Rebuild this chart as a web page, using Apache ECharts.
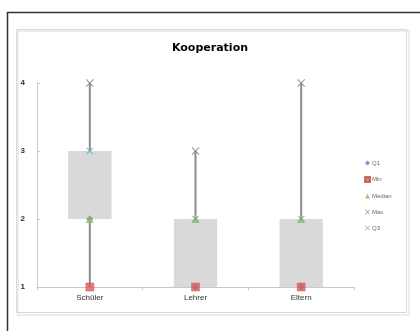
<!DOCTYPE html>
<html>
<head>
<meta charset="utf-8">
<script src="https://cdn.jsdelivr.net/npm/echarts@6/dist/echarts.min.js"></script>
<style>
  html, body { margin: 0; padding: 0; background: #fff; }
  #chart { width: 420px; height: 331px; }
</style>
</head>
<body>
<div id="chart"></div>
<script>
  // Werte
  var categories = ['Schüler', 'Lehrer', 'Eltern']
  var minVals = [1, 1, 1]
  var q1Vals = [2, 1, 1]
  var medianVals = [2, 2, 2]
  var q3Vals = [3, 2, 2]
  var maxVals = [4, 3, 4]
  var yTicks = [1, 2, 3, 4]

  var crossPath = 'path://M0,1L1,0L5,4L9,0L10,1L6,5L10,9L9,10L5,6L1,10L0,9L4,5Z'

  var myChart = echarts.init(document.getElementById('chart'))

  function boxItem (params, api) {
    var i = api.value(0)
    var pMin = api.coord([i, api.value(1)])
    var pMax = api.coord([i, api.value(5)])
    var pQ1 = api.coord([i, api.value(2)])
    var pQ3 = api.coord([i, api.value(4)])
    var w = api.size([1, 0])[0] * 0.41
    return {
      type: 'group',
      children: [
        {
          type: 'line',
          shape: { x1: pMin[0], y1: pMin[1], x2: pMax[0], y2: pMax[1] },
          style: { stroke: '#8c8c8c', lineWidth: 2 },
        },
        {
          type: 'rect',
          shape: { x: pQ1[0] - w / 2, y: pQ3[1], width: w, height: pQ1[1] - pQ3[1] },
          style: { fill: '#d9d9d9' },
        },
      ],
    }
  }

  var boxData = categories.map(function (c, i) {
    return [i, minVals[i], q1Vals[i], medianVals[i], q3Vals[i], maxVals[i]]
  })

  var option = {
    animation: false,
    backgroundColor: '#fff',
    title: {
      text: 'Kooperation',
      left: 'center',
      top: 38,
      textStyle: { color: '#000', fontSize: 11, fontWeight: 'bold', fontFamily: 'DejaVu Sans' },
    },
    legend: {
      orient: 'vertical',
      left: 359,
      top: 155,
      itemWidth: 5,
      itemHeight: 5,
      itemGap: 10,
      textStyle: { color: '#666', fontSize: 6, padding: [0, 0, 0, -3] },
      data: ['Q1', 'Min', 'Median', 'Max', 'Q3'],
    },
    grid: { left: 37, right: 66, top: 83, bottom: 44 },
    xAxis: {
      type: 'category',
      data: categories,
      axisLine: { lineStyle: { color: '#c8c8c8', width: 1 } },
      axisTick: { show: true, length: 3, lineStyle: { color: '#c8c8c8' } },
      axisLabel: { color: '#333', fontSize: 8, margin: 7 },
    },
    yAxis: {
      type: 'value',
      min: yTicks[0],
      max: yTicks[yTicks.length - 1],
      interval: 1,
      axisLine: { show: true, lineStyle: { color: '#c8c8c8' } },
      axisTick: { show: true, length: 3, inside: true, lineStyle: { color: '#c8c8c8' } },
      splitLine: { show: false },
      axisLabel: { color: '#333', fontSize: 8, fontWeight: 'bold', margin: 12 },
    },
    series: [
      {
        type: 'custom',
        renderItem: boxItem,
        data: boxData,
        encode: { x: 0, y: [1, 5] },
        z: 1,
        silent: true,
      },
      {
        name: 'Q1', type: 'scatter', symbol: 'diamond', symbolSize: 7,
        itemStyle: { color: '#4f81bd' }, data: q1Vals, z: 3,
      },
      {
        name: 'Min', type: 'scatter', symbol: 'rect', symbolSize: 8,
        itemStyle: { color: '#e0595c', borderColor: '#c0504d', borderWidth: 0.5 }, data: minVals, z: 3,
      },
      {
        name: 'Median', type: 'scatter', symbol: 'triangle', symbolSize: 8,
        itemStyle: { color: '#9bbb59' }, data: medianVals, z: 4,
      },
      {
        name: 'Max', type: 'scatter', symbol: crossPath, symbolSize: 8,
        itemStyle: { color: '#7f7f8f' }, data: maxVals, z: 4,
      },
      {
        name: 'Q3', type: 'scatter', symbol: crossPath, symbolSize: 7,
        itemStyle: { color: '#4bacc6' }, data: q3Vals, z: 5,
      },
    ],
    graphic: [
      { type: 'line', shape: { x1: 7, y1: 12.5, x2: 420, y2: 12.5 }, style: { stroke: '#333', lineWidth: 1.5 } },
      { type: 'line', shape: { x1: 7.5, y1: 12, x2: 7.5, y2: 331 }, style: { stroke: '#333', lineWidth: 1.5 } },
      { type: 'rect', shape: { x: 18, y: 31, width: 391, height: 284 }, style: { fill: 'none', stroke: '#ededed', lineWidth: 2 } },
      { type: 'rect', shape: { x: 16.5, y: 29.5, width: 390, height: 283 }, style: { fill: 'none', stroke: '#d9d9d9', lineWidth: 1 } },
    ],
  }

  myChart.setOption(option)
</script>
</body>
</html>
